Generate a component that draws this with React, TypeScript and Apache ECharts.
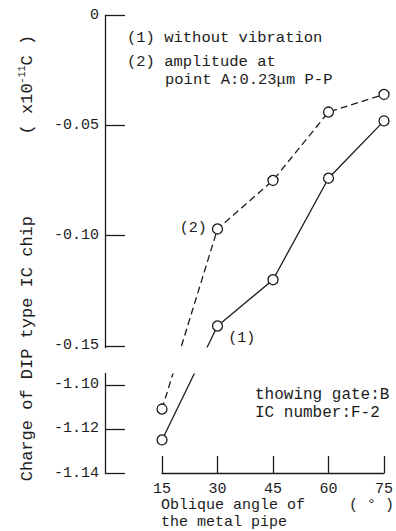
import React, { useEffect, useRef } from 'react';
import * as echarts from 'echarts';

const angles = [15, 30, 45, 60, 75];
const withoutVibration = [-1.125, -0.141, -0.12, -0.074, -0.048];
const withVibration = [-1.111, -0.097, -0.075, -0.044, -0.036];
const yTickValues = [0, -0.05, -0.1, -0.15, -1.1, -1.12, -1.14];
const xTickValues = [15, 30, 45, 60, 75];
const legendLines = ['(1) without vibration', '(2) amplitude at', 'point A:0.23μm P-P'];
const noteLines = ['thowing gate:B', 'IC number:F-2'];
const yAxisTitle = 'Charge of DIP type IC chip        ( x10{sup|-11}C )';
const xAxisTitle = ['Oblique angle of', 'the metal pipe', '( ° )'];

export default function App() {
  const ref = useRef<HTMLDivElement>(null);
  useEffect(() => {
    document.body.style.margin = '0';
    const chart = echarts.init(ref.current!, null, { renderer: 'svg' });
    const ink = '#1c1c1c';
    const font = '"Liberation Mono", "DejaVu Sans Mono", monospace';
    const pointLabel = (text: string, position: string, offset: number[]) => ({
      show: true,
      formatter: text,
      position,
      distance: 5,
      offset,
      fontFamily: font,
      fontSize: 15,
      color: ink,
    });
    const txt = (text: string, x: number, y: number, size: number, align = 'left') => ({
      type: 'text',
      x,
      y,
      style: { text, fill: ink, font: `${size}px ${font}`, align, verticalAlign: 'middle' },
    });
    chart.setOption({
      animation: false,
      backgroundColor: '#ffffff',
      grid: { left: 162, right: 7, top: 15, bottom: 58 },
      xAxis: {
        type: 'value',
        position: 'bottom',
        min: 15,
        max: 75,
        interval: 15,
        axisLine: { show: true, onZero: false, lineStyle: { color: ink, width: 1.3 } },
        axisTick: { show: true, inside: true, length: 17, lineStyle: { color: ink, width: 1.3 }, customValues: xTickValues },
        axisLabel: { color: ink, fontFamily: font, fontSize: 15, margin: 9, customValues: xTickValues },
        splitLine: { show: false },
      },
      yAxis: {
        type: 'value',
        position: 'left',
        offset: 57,
        min: -1.14,
        max: 0,
        breaks: [{ start: -1.0947, end: -0.1505, gap: '5.7%' }],
        breakArea: {
          show: true,
          itemStyle: { color: '#ffffff', borderColor: '#ffffff', borderWidth: 0, opacity: 1 },
          zigzagAmplitude: 0,
          zigzagZ: 100,
          expandOnClick: false,
        },
        axisLine: { show: true, lineStyle: { color: ink, width: 1.3 } },
        axisTick: { show: true, inside: true, length: 20, lineStyle: { color: ink, width: 1.3 }, customValues: yTickValues },
        axisLabel: {
          color: ink,
          fontFamily: font,
          fontSize: 15,
          margin: 6,
          customValues: yTickValues,
          formatter: (v: number) => (v === 0 ? '0' : v.toFixed(2)),
        },
        splitLine: { show: false },
      },
      series: [
        {
          name: '(1) without vibration',
          type: 'line',
          clip: false,
          symbol: 'circle',
          symbolSize: 10,
          itemStyle: { color: '#ffffff', borderColor: ink, borderWidth: 1.3 },
          lineStyle: { color: ink, width: 1.3, type: 'solid' },
          data: angles.map((a, i) =>
            i === 1
              ? { value: [a, withoutVibration[i]], label: pointLabel('(1)', 'right', [0, 12]) }
              : [a, withoutVibration[i]]
          ),
        },
        {
          name: '(2) amplitude at point A:0.23μm P-P',
          type: 'line',
          clip: false,
          symbol: 'circle',
          symbolSize: 10,
          itemStyle: { color: '#ffffff', borderColor: ink, borderWidth: 1.3 },
          lineStyle: { color: ink, width: 1.3, type: [7, 4] },
          data: angles.map((a, i) =>
            i === 1
              ? { value: [a, withVibration[i]], label: pointLabel('(2)', 'left', [0, 0]) }
              : [a, withVibration[i]]
          ),
        },
      ],
      graphic: [
        {
          type: 'text',
          x: 27,
          y: 258,
          rotation: Math.PI / 2,
          style: {
            text: yAxisTitle,
            fill: ink,
            font: `17px ${font}`,
            align: 'center',
            verticalAlign: 'middle',
            rich: { sup: { fontSize: 10, fontFamily: font, fill: ink, verticalAlign: 'top', lineHeight: 20 } },
          },
        },
        txt(legendLines[0], 127, 38, 15.5),
        txt(legendLines[1], 127, 62, 15.5),
        txt(legendLines[2], 165, 80, 15.5),
        txt(noteLines[0], 255, 395, 16),
        txt(noteLines[1], 255, 413, 16),
        txt(xAxisTitle[0], 161, 505, 15),
        txt(xAxisTitle[1], 161, 522, 15),
        txt(xAxisTitle[2], 394, 505, 15, 'right'),
      ],
    });
    return () => chart.dispose();
  }, []);
  return <div ref={ref} style={{ position: 'fixed', left: 0, top: 0, width: 396, height: 531 }} />;
}
